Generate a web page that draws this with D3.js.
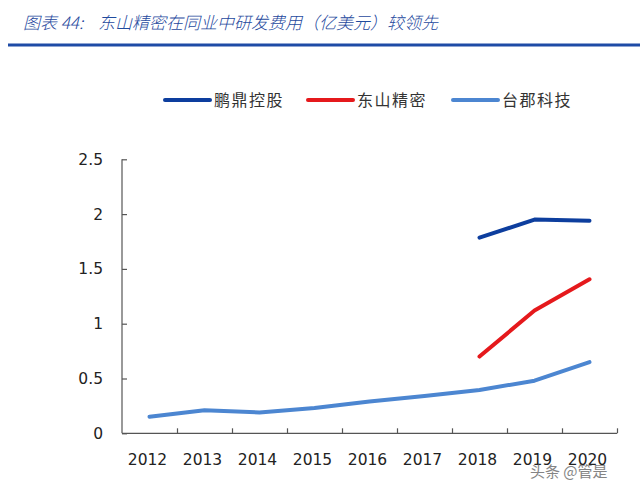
<!DOCTYPE html>
<html>
<head>
<meta charset="utf-8">
<script src="https://cdn.jsdelivr.net/npm/d3@7"></script>
<style>
  body { margin: 0; background: #fff; }
  svg { display: block; }
</style>
</head>
<body>
<svg id="chart" width="640" height="493"></svg>
<script>
// R&D spending, 100M USD
var years = ["2012", "2013", "2014", "2015", "2016", "2017", "2018", "2019", "2020"];
var seriesNames = ["鹏鼎控股", "东山精密", "台郡科技"];
var pengding = [null, null, null, null, null, null, 1.785, 1.95, 1.94];
var dongshan = [null, null, null, null, null, null, 0.70, 1.12, 1.405];
var taijun = [0.15, 0.21, 0.19, 0.23, 0.29, 0.34, 0.395, 0.48, 0.65];
var yTicks = [0, 0.5, 1, 1.5, 2, 2.5];

var colors = ["#0D3E9E", "#E5191C", "#4C86D1"];

const width = 640;
const height = 493;

var svg = d3.select("#chart");

svg.append("rect").attr("width", width).attr("height", height).attr("fill", "#fff");

/**** Title ****/
var title = svg.append("text")
    .attr("y", 29)
    .attr("fill", "#1F4A9E")
    .style("font-family", "'Noto Sans CJK SC', sans-serif")
    .style("font-style", "italic")
    .style("font-size", "17px")
    .style("font-weight", "300");

title.append("tspan").attr("x", 23).text("图表 44:");
title.append("tspan").attr("x", 98).text("东山精密在同业中研发费用（亿美元）较领先");

svg.append("line")
    .attr("x1", 8).attr("x2", 640)
    .attr("y1", 45).attr("y2", 45)
    .attr("stroke", "#1E4BA6")
    .attr("stroke-width", 3);

/**** Scales ****/
var plotLeft = 122, plotRight = 617, plotTop = 159.3, plotBottom = 433.3;

var x = d3.scaleBand()
    .domain(years)
    .range([plotLeft, plotRight])
    .padding(0);

var xEdge = d3.scaleLinear()
    .domain([0, years.length])
    .range([plotLeft, plotRight]);

var y = d3.scaleLinear()
    .domain([0, 2.5])
    .range([plotBottom, plotTop]);

/**** Axes ****/
var yAxis = d3.axisRight(y)
    .tickValues(yTicks)
    .tickSize(5)
    .tickFormat("");

svg.append("g")
    .attr("class", "yAxis")
    .attr("transform", "translate(" + plotLeft + ",0)")
    .call(yAxis)
    .call(function(g) {
        g.select(".domain").attr("d", "M0," + plotTop + "V" + plotBottom);
    });

// y labels
svg.append("g").selectAll("text")
    .data(yTicks)
    .enter()
    .append("text")
    .attr("x", 103)
    .attr("y", function(d) { return y(d); })
    .attr("dy", "0.36em")
    .attr("text-anchor", "end")
    .attr("fill", "#222")
    .style("font-family", "'DejaVu Sans', sans-serif")
    .style("font-size", "15.5px")
    .text(function(d) { return d; });

var xTickAxis = d3.axisTop(xEdge)
    .tickValues(d3.range(1, years.length + 1))
    .tickSize(5)
    .tickFormat("");

svg.append("g")
    .attr("class", "xAxis")
    .attr("transform", "translate(0," + plotBottom + ")")
    .call(xTickAxis)
    .call(function(g) {
        g.select(".domain").attr("d", "M" + plotLeft + ",0H" + plotRight);
    });

var xAxis = d3.axisBottom(x)
    .tickSize(0)
    .tickPadding(21);

svg.append("g")
    .attr("class", "xLabels")
    .attr("transform", "translate(-2," + plotBottom + ")")
    .call(xAxis)
    .call(function(g) {
        g.select(".domain").remove();
        g.selectAll("text")
            .attr("fill", "#222")
            .style("font-family", "'DejaVu Sans', sans-serif")
            .style("font-size", "15.5px");
    });

svg.selectAll(".yAxis path, .yAxis line, .xAxis path, .xAxis line")
    .attr("stroke", "#555")
    .attr("stroke-width", 1.2);

/**** Lines ****/
var allSeries = [pengding, dongshan, taijun];

var line = d3.line()
    .defined(function(d) { return d != null; })
    .x(function(d, i) { return x(years[i]) + x.bandwidth() / 2; })
    .y(function(d) { return y(d); });

svg.append("g").selectAll("path")
    .data(allSeries)
    .enter()
    .append("path")
    .attr("d", line)
    .attr("fill", "none")
    .attr("stroke", function(d, i) { return colors[i]; })
    .attr("stroke-width", 4)
    .attr("stroke-linecap", "round")
    .attr("stroke-linejoin", "round");

/**** Legend ****/
var legendX = [165, 308, 453];
var legend = svg.append("g").selectAll("g")
    .data(seriesNames)
    .enter()
    .append("g")
    .attr("transform", function(d, i) { return "translate(" + legendX[i] + ",100)"; });

legend.append("line")
    .attr("x1", 0).attr("x2", 45)
    .attr("stroke", function(d, i) { return colors[i]; })
    .attr("stroke-width", 4)
    .attr("stroke-linecap", "round");

legend.append("text")
    .attr("x", 49)
    .attr("dy", "0.36em")
    .attr("fill", "#333")
    .style("font-family", "'Noto Sans CJK SC', sans-serif")
    .style("font-size", "16px")
    .style("letter-spacing", "1.5px")
    .text(function(d) { return d; });

/**** Watermark ****/
svg.append("text")
    .attr("x", 530)
    .attr("y", 477)
    .attr("fill", "#666")
    .attr("opacity", 0.8)
    .style("font-family", "'Noto Sans CJK SC', sans-serif")
    .style("font-size", "15px")
    .text("头条 @管是");
</script>
</body>
</html>
